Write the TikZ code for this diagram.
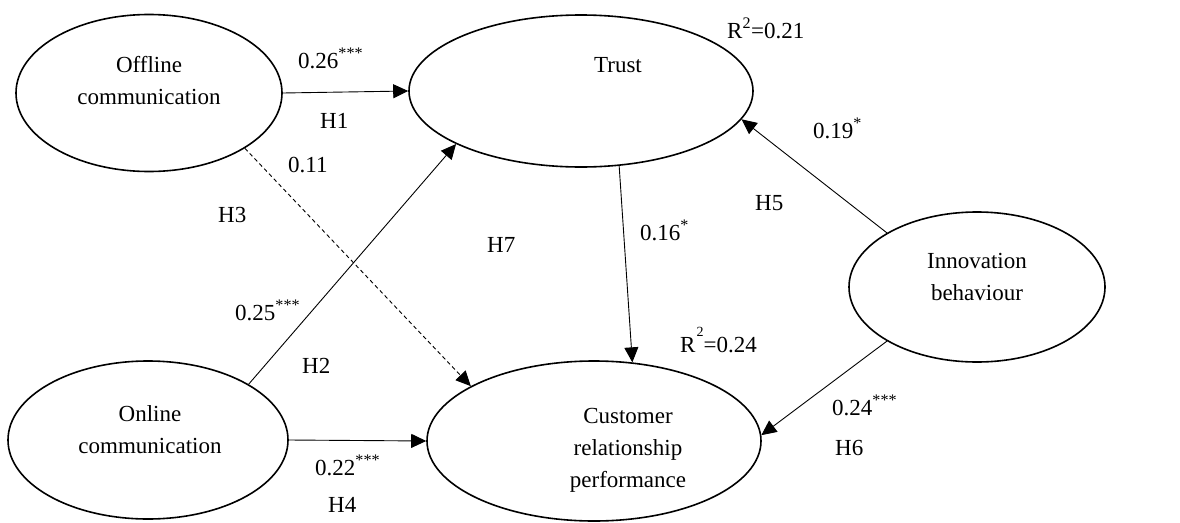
\documentclass[tikz,border=0pt]{standalone}
\usepackage{fontspec}
\setmainfont{Liberation Serif}
\usetikzlibrary{shapes.geometric,arrows.meta}
\begin{document}
\begin{tikzpicture}[x=1pt,y=-1pt,
  font=\fontsize{23}{32}\selectfont,
  ell/.style={draw,ellipse,line width=1.6pt,inner sep=0pt},
  txt/.style={align=center,inner sep=0pt},
  lab/.style={anchor=base west,inner sep=0pt},
  conn/.style={line width=0.9pt,-{Triangle[length=15pt,width=14pt]}},
  dconn/.style={conn,dash pattern=on 4pt off 3pt}]
\useasboundingbox (0,0) rectangle (1180,522);
% ellipses
\node[ell,minimum width=266,minimum height=157] (off) at (149,93) {};
\node[ell,minimum width=344,minimum height=152] (tru) at (581,91) {};
\node[ell,minimum width=280,minimum height=158] (onl) at (148,440) {};
\node[ell,minimum width=334,minimum height=160] (crp) at (594,441) {};
\node[ell,minimum width=256,minimum height=150] (inn) at (977,287) {};
% texts
\node[txt] (offt) at (149,81) {Offline\\communication};
\node[txt,anchor=base] (trut) at (618,72) {Trust};
\node[txt] (onlt) at (150,430) {Online\\communication};
\node[txt] (crpt) at (628,450) {Customer\\relationship\\performance};
\node[txt] (innt) at (977,277) {Innovation\\behaviour};
% connectors
\draw[conn] (off.0) -- (tru.180);
\draw[dconn] (off.-30) -- (crp.156);
\draw[conn] (onl.29.5) -- (tru.-157);
\draw[conn] (onl.0) -- (crp.180);
\draw[conn] (tru.-63) -- (crp.64);
\draw[conn] (inn.149.6) -- (tru.-10);
\draw[conn] (inn.-149) -- (crp.2);
% labels
\node[lab] (l1) at (298,68) {0.26\textsuperscript{***}};
\node[lab] (h1) at (320,128) {H1};
\node[lab] (l3) at (288,172) {0.11};
\node[lab] (h3) at (218,222) {H3};
\node[lab] (l2) at (235,320) {0.25\textsuperscript{***}};
\node[lab] (h2) at (302,373) {H2};
\node[lab] (l4) at (315,475) {0.22\textsuperscript{***}};
\node[lab] (h4) at (328,512) {H4};
\node[lab] (h7) at (487,252) {H7};
\node[lab] (l7) at (640,240) {0.16\textsuperscript{*}};
\node[lab] (l5) at (813,138) {0.19\textsuperscript{*}};
\node[lab] (h5) at (755,210) {H5};
\node[lab] (l6) at (832,415) {0.24\textsuperscript{***}};
\node[lab] (h6) at (835,455) {H6};
\node[lab] (r1) at (727,38) {R\textsuperscript{2}=0.21};
\node[lab] (r2) at (680,352) {R\kern1pt\raisebox{16pt}{\fontsize{14}{14}\selectfont 2}=0.24};
\end{tikzpicture}
\end{document}
